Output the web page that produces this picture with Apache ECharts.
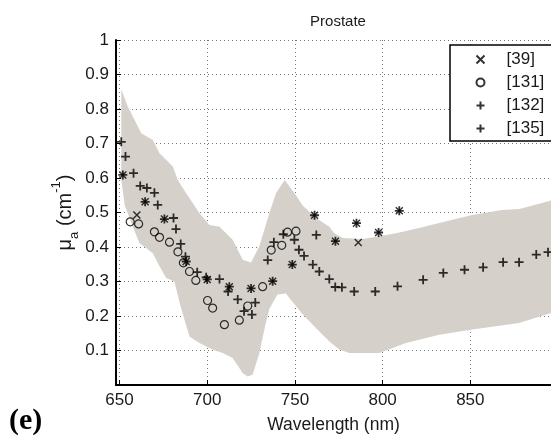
<!DOCTYPE html>
<html>
<head>
<meta charset="utf-8">
<script src="https://cdn.jsdelivr.net/npm/echarts@6/dist/echarts.min.js"></script>
<style>html,body{margin:0;padding:0;background:#fff;}#c{width:551px;height:440px;}</style>
</head>
<body>
<div id="c"></div>
<script>
// ---- data ----
const xTicks = [650, 700, 750, 800, 850];
const yTicks = [0.1, 0.2, 0.3, 0.4, 0.5, 0.6, 0.7, 0.8, 0.9, 1];

// [39] (x markers)
const ref39X = [651.9, 659.9, 664.6, 675.6, 688.0, 700.0, 712.6, 725.0, 737.3, 748.5, 761.2, 773.1, 785.1, 786.1, 797.7, 809.5];
const ref39Y = [0.609, 0.493, 0.531, 0.481, 0.358, 0.306, 0.285, 0.280, 0.301, 0.349, 0.492, 0.417, 0.469, 0.413, 0.442, 0.505];

// [131] (circles)
const ref131X = [656.1, 660.9, 669.9, 672.8, 678.5, 683.3, 686.4, 689.9, 693.5, 700.2, 703.1, 709.8, 718.3, 723.1, 731.6, 736.5, 742.5, 745.8, 750.6];
const ref131Y = [0.473, 0.467, 0.444, 0.428, 0.414, 0.386, 0.354, 0.329, 0.303, 0.245, 0.223, 0.175, 0.188, 0.229, 0.285, 0.391, 0.405, 0.443, 0.446];

// [132] (plus markers)
const ref132X = [651.9, 664.6, 675.6, 688.0, 700.0, 712.6, 725.0, 737.3, 748.5, 761.2, 773.1, 785.1, 797.7, 809.5];
const ref132Y = [0.609, 0.531, 0.481, 0.358, 0.306, 0.285, 0.280, 0.301, 0.349, 0.492, 0.417, 0.469, 0.442, 0.505];

// [135] (plus markers)
const ref135X = [651.0, 653.4, 658.0, 661.8, 665.6, 669.9, 671.8, 680.8, 682.2, 684.9, 687.6, 694.3, 699.4, 707.0, 711.9, 717.4, 721.0, 725.5, 727.4, 734.5, 738.0, 743.4, 749.7, 752.3, 755.2, 760.2, 762.2, 763.9, 769.6, 773.0, 776.8, 783.8, 795.8, 808.5, 823.1, 834.6, 846.7, 857.3, 868.7, 877.8, 887.6, 894.3];
const ref135Y = [0.705, 0.662, 0.614, 0.577, 0.571, 0.557, 0.522, 0.484, 0.452, 0.409, 0.372, 0.327, 0.312, 0.307, 0.271, 0.248, 0.214, 0.204, 0.239, 0.362, 0.414, 0.437, 0.421, 0.392, 0.374, 0.349, 0.435, 0.329, 0.307, 0.284, 0.283, 0.271, 0.271, 0.286, 0.305, 0.325, 0.334, 0.341, 0.356, 0.356, 0.378, 0.385];

// shaded range (upper and lower bounds)
const bandUpperX = [651, 654.7, 662.4, 669, 672.8, 680.4, 683.2, 688, 695.6, 701.3, 707, 714.5, 720.2, 725, 729.7, 735.4, 739.2, 744.2, 750.6, 754.4, 762, 769.6, 772.4, 777.2, 788.6, 798.1, 807.6, 820.8, 834, 851, 868, 878, 896];
const bandUpperY = [0.857, 0.807, 0.730, 0.710, 0.672, 0.633, 0.594, 0.556, 0.498, 0.464, 0.459, 0.421, 0.363, 0.355, 0.402, 0.498, 0.556, 0.594, 0.550, 0.520, 0.484, 0.459, 0.440, 0.426, 0.423, 0.431, 0.440, 0.455, 0.472, 0.493, 0.507, 0.510, 0.535];
const bandLowerX = [651, 653, 657.6, 661.4, 665.2, 669, 672.8, 676.6, 681.3, 684.2, 687, 690, 695.6, 703, 708.8, 714.5, 720.2, 723, 725.9, 729.7, 733, 735.4, 740, 744.9, 748, 754.4, 763.9, 770, 775.3, 781, 798.1, 813.3, 832.2, 851.2, 877.8, 896];
const bandLowerY = [0.595, 0.520, 0.459, 0.411, 0.397, 0.382, 0.344, 0.310, 0.300, 0.240, 0.190, 0.140, 0.122, 0.103, 0.093, 0.078, 0.035, 0.025, 0.030, 0.093, 0.170, 0.220, 0.262, 0.265, 0.245, 0.205, 0.155, 0.125, 0.103, 0.093, 0.093, 0.122, 0.146, 0.161, 0.180, 0.209];

// ---- chart ----
const pair = (xs, ys) => xs.map((x, i) => [x, ys[i]]);
const FONT = 'Liberation Sans, Arial, Helvetica, sans-serif';
const TXT = '#1a1a1a';
const plusPath = 'path://M0,5L10,5M5,0L5,10';
const crossPath = 'path://M0,0L10,10M10,0L0,10';

const chart = echarts.init(document.getElementById('c'), null, {renderer: 'canvas'});
chart.setOption({
  animation: false,
  backgroundColor: '#fff',
  title: {
    text: 'Prostate', left: 333, top: 9, textAlign: 'center',
    textStyle: {fontFamily: FONT, fontSize: 15, fontWeight: 'normal', color: TXT}
  },
  grid: {left: 116, right: 0, top: 40, bottom: 55, containLabel: false},
  legend: {
    orient: 'vertical', left: 450, top: 45,
    padding: [6, 8, 4, 24], itemGap: 6, itemWidth: 8, itemHeight: 15,
    borderColor: '#000', borderWidth: 1.5, backgroundColor: '#fff',
    textStyle: {fontFamily: FONT, fontSize: 17, color: TXT, padding: [0, 0, 0, 17]},
    data: ['[39]', '[131]', '[132]', '[135]']
  },
  xAxis: {
    type: 'value', min: 648, max: 896,
    name: 'Wavelength (nm)', nameLocation: 'middle', nameGap: 31, nameMoveOverlap: false,
    nameTextStyle: {fontFamily: FONT, fontSize: 17.5, color: TXT},
    axisLine: {lineStyle: {color: '#000', width: 2}},
    axisTick: {inside: true, length: 5, customValues: xTicks, lineStyle: {color: '#000', width: 1}},
    axisLabel: {customValues: xTicks, fontFamily: FONT, fontSize: 17, color: TXT, margin: 7},
    splitLine: {show: true, lineStyle: {color: '#777', type: [1, 3], width: 1}}
  },
  yAxis: {
    type: 'value', min: 0, max: 1, interval: 0.1,
    name: '{m|μ}{s|a}{m| (cm}{p|-1}{m|)}', nameLocation: 'middle', nameGap: 38, nameRotate: 90,
    nameMoveOverlap: false,
    nameTextStyle: {
      fontFamily: FONT, fontSize: 20, color: TXT,
      rich: {
        m: {fontFamily: FONT, fontSize: 20, color: TXT, lineHeight: 26},
        s: {fontFamily: FONT, fontSize: 13, color: TXT, verticalAlign: 'bottom', lineHeight: 26, padding: [0, 0, -3, 0]},
        p: {fontFamily: FONT, fontSize: 13, color: TXT, verticalAlign: 'top', lineHeight: 26, padding: [-2, 0, 0, 0]}
      }
    },
    axisLine: {show: true, lineStyle: {color: '#000', width: 2}},
    axisTick: {inside: true, length: 5, lineStyle: {color: '#000', width: 1}},
    axisLabel: {
      fontFamily: FONT, fontSize: 17, color: TXT, margin: 7,
      formatter: v => (yTicks.some(t => Math.abs(t - v) < 1e-9) ? String(+v.toFixed(1)) : '')
    },
    splitLine: {show: true, lineStyle: {color: '#777', type: [1, 3], width: 1}}
  },
  graphic: [{
    type: 'text', left: 9, top: 406,
    style: {text: '(e)', font: 'bold 30px "Liberation Serif", "Times New Roman", serif', fill: '#000'}
  }],
  series: [
    {
      type: 'custom', silent: true, z: 1, clip: true,
      data: [[700, 0.5]],
      renderItem: function (params, api) {
        const pts = [];
        for (let i = 0; i < bandUpperX.length; i++) pts.push(api.coord([bandUpperX[i], bandUpperY[i]]));
        for (let i = bandLowerX.length - 1; i >= 0; i--) pts.push(api.coord([bandLowerX[i], bandLowerY[i]]));
        return {type: 'polygon', shape: {points: pts}, style: {fill: '#d5d1ca', stroke: null}};
      }
    },
    {
      name: '[39]', type: 'scatter', z: 3, data: pair(ref39X, ref39Y),
      symbol: crossPath, symbolSize: 7,
      itemStyle: {color: 'none', borderColor: '#000', borderWidth: 1.4}
    },
    {
      name: '[131]', type: 'scatter', z: 3, data: pair(ref131X, ref131Y),
      symbol: 'circle', symbolSize: 8,
      itemStyle: {color: 'none', borderColor: '#000', borderWidth: 1.2}
    },
    {
      name: '[132]', type: 'scatter', z: 3, data: pair(ref132X, ref132Y),
      symbol: plusPath, symbolSize: 9,
      itemStyle: {color: 'none', borderColor: '#000', borderWidth: 1.8}
    },
    {
      name: '[135]', type: 'scatter', z: 3, data: pair(ref135X, ref135Y),
      symbol: plusPath, symbolSize: 9,
      itemStyle: {color: 'none', borderColor: '#000', borderWidth: 1.8}
    }
  ]
});
</script>
</body>
</html>
